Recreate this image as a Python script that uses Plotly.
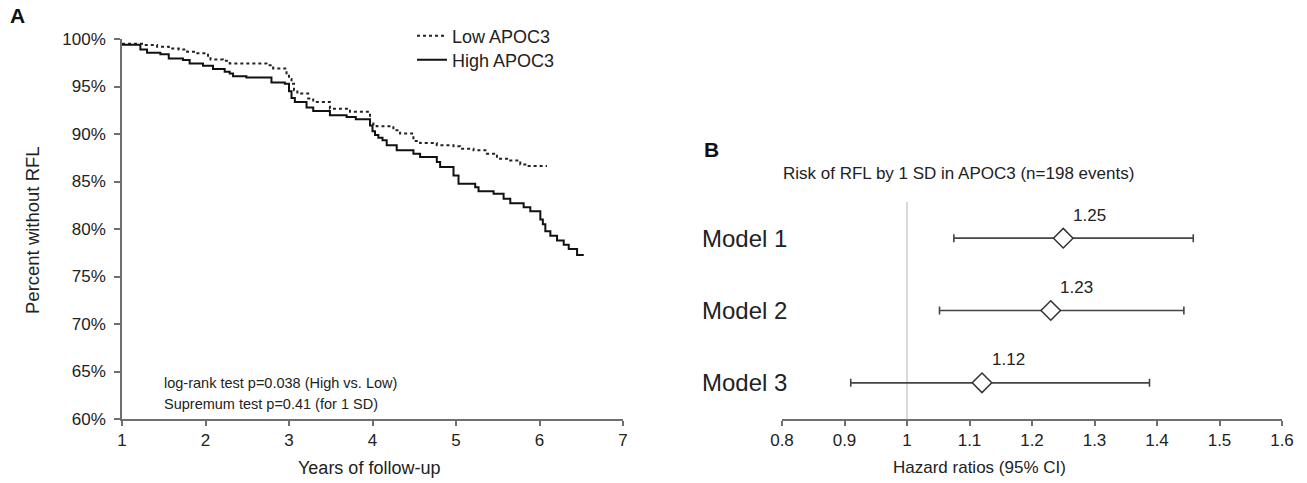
import plotly.graph_objects as go

# ---------------- Panel A data (Kaplan-Meier step curves) ----------------
low_t = [1.00, 1.26, 1.42, 1.56, 1.68, 1.78, 1.89, 2.03, 2.06, 2.21, 2.29, 2.73, 2.81,
         2.97, 3.00, 3.03, 3.06, 3.10, 3.23, 3.29, 3.49, 3.73, 3.97, 4.01, 4.05, 4.25,
         4.33, 4.49, 4.57, 4.77, 4.97, 5.05, 5.21, 5.37, 5.49, 5.65, 5.77, 5.85, 6.09]
low_s = [99.5, 99.37, 99.19, 99.0, 98.9, 98.66, 98.49, 98.1, 97.85, 97.7, 97.43, 97.25, 96.9,
         96.4, 95.8, 95.3, 94.6, 94.26, 93.74, 93.38, 92.65, 92.33, 91.3, 91.02, 90.81, 90.39,
         90.04, 89.26, 89.05, 88.81, 88.7, 88.46, 88.28, 87.93, 87.4, 87.22, 86.8, 86.62, 86.62]

high_t = [1.00, 1.22, 1.30, 1.46, 1.56, 1.73, 1.81, 1.97, 2.09, 2.23, 2.29, 2.33, 2.49, 2.79,
          2.95, 3.00, 3.03, 3.07, 3.21, 3.29, 3.49, 3.69, 3.80, 3.97, 4.00, 4.03, 4.07, 4.12,
          4.17, 4.29, 4.49, 4.57, 4.77, 4.81, 4.97, 5.03, 5.23, 5.27, 5.45, 5.57, 5.65, 5.81,
          5.89, 6.01, 6.04, 6.07, 6.13, 6.21, 6.29, 6.35, 6.45, 6.53]
high_s = [99.4, 98.9, 98.55, 98.4, 97.96, 97.78, 97.43, 97.18, 96.83, 96.55, 96.38, 96.09, 95.95, 95.42,
          95.3, 94.5, 93.8, 93.38, 92.79, 92.43, 91.97, 91.8, 91.55, 90.9, 90.3, 89.9, 89.6, 89.33,
          88.81, 88.28, 87.93, 87.57, 87.04, 86.52, 85.64, 84.76, 84.4, 83.98, 83.7, 83.18, 82.72, 82.29,
          81.87, 81.0, 80.5, 79.77, 79.3, 78.78, 78.35, 77.89, 77.26, 77.26]

years_ticks = [1, 2, 3, 4, 5, 6, 7]
pct_ticks = [60, 65, 70, 75, 80, 85, 90, 95, 100]
pct_labels = ["60%", "65%", "70%", "75%", "80%", "85%", "90%", "95%", "100%"]

# ---------------- Panel B data (forest plot) ----------------
models = ["Model 1", "Model 2", "Model 3"]
model_pos = [1, 2, 3]
hr = [1.25, 1.23, 1.12]
ci_low = [1.075, 1.052, 0.91]
ci_high = [1.458, 1.443, 1.388]
hr_labels = ["1.25", "1.23", "1.12"]
hr_ticks = [0.8, 0.9, 1.0, 1.1, 1.2, 1.3, 1.4, 1.5, 1.6]
hr_ticklabels = ["0.8", "0.9", "1", "1.1", "1.2", "1.3", "1.4", "1.5", "1.6"]

W, H = 1307, 483
FONT = "Liberation Sans, Arial, sans-serif"
TXT = "#222222"
AX = "#6f6f6f"

def px(x):
    return x / W

def py(y):
    return 1 - y / H

fig = go.Figure()

fig.add_trace(go.Scatter(x=low_t, y=low_s, mode="lines", line_shape="hv",
                         line=dict(color="#222222", width=2, dash="dot"),
                         name="Low APOC3", xaxis="x", yaxis="y", legend="legend"))
fig.add_trace(go.Scatter(x=high_t, y=high_s, mode="lines", line_shape="hv",
                         line=dict(color="#111111", width=2),
                         name="High APOC3", xaxis="x", yaxis="y", legend="legend2"))

err_plus = [h - v for h, v in zip(ci_high, hr)]
err_minus = [v - l for v, l in zip(hr, ci_low)]
fig.add_trace(go.Scatter(x=hr, y=model_pos, mode="markers", showlegend=False,
                         marker=dict(symbol="diamond", size=15, color="white",
                                     line=dict(color="#333333", width=1.5)),
                         error_x=dict(type="data", symmetric=False, array=err_plus,
                                      arrayminus=err_minus, color="#444444",
                                      thickness=1.6, width=4),
                         xaxis="x2", yaxis="y2"))

annotations = []
annotations.append(dict(text="<b>A</b>", x=px(8), y=py(16), xref="paper", yref="paper",
                        xanchor="left", yanchor="middle", showarrow=False,
                        font=dict(size=21, color="#111", family=FONT)))
annotations.append(dict(text="<b>B</b>", x=px(702), y=py(150), xref="paper", yref="paper",
                        xanchor="left", yanchor="middle", showarrow=False,
                        font=dict(size=21, color="#111", family=FONT)))
annotations.append(dict(text="Percent without RFL", x=px(32), y=py(230), xref="paper", yref="paper",
                        textangle=-90, showarrow=False, xanchor="center", yanchor="middle",
                        font=dict(size=18.5, color=TXT, family=FONT)))
annotations.append(dict(text="Years of follow-up", x=px(369), y=py(468), xref="paper", yref="paper",
                        showarrow=False, xanchor="center", yanchor="middle",
                        font=dict(size=18, color=TXT, family=FONT)))
annotations.append(dict(text="log-rank test p=0.038 (High vs. Low)", x=px(162), y=py(383),
                        xref="paper", yref="paper", showarrow=False, xanchor="left", yanchor="middle",
                        font=dict(size=14.5, color=TXT, family=FONT)))
annotations.append(dict(text="Supremum test p=0.41 (for 1 SD)", x=px(162), y=py(404),
                        xref="paper", yref="paper", showarrow=False, xanchor="left", yanchor="middle",
                        font=dict(size=14.5, color=TXT, family=FONT)))
annotations.append(dict(text="Risk of RFL by 1 SD in APOC3 (n=198 events)", x=px(959), y=py(173),
                        xref="paper", yref="paper", showarrow=False, xanchor="center", yanchor="middle",
                        font=dict(size=17, color=TXT, family=FONT)))
annotations.append(dict(text="Hazard ratios (95% CI)", x=px(979), y=py(467),
                        xref="paper", yref="paper", showarrow=False, xanchor="center", yanchor="middle",
                        font=dict(size=17, color=TXT, family=FONT)))
for m, p in zip(models, model_pos):
    annotations.append(dict(text=m, x=px(700), y=p, xref="paper", yref="y2", showarrow=False,
                            xanchor="left", yanchor="middle",
                            font=dict(size=24, color=TXT, family=FONT)))
for v, p, lab in zip(hr, model_pos, hr_labels):
    annotations.append(dict(text=lab, x=v, y=p, xref="x2", yref="y2", showarrow=False,
                            xanchor="center", yanchor="middle", xshift=26, yshift=23,
                            font=dict(size=17, color=TXT, family=FONT)))

legend_common = dict(xanchor="left", yanchor="middle", bgcolor="rgba(0,0,0,0)",
                     font=dict(size=18, color=TXT, family=FONT), itemwidth=30,
                     tracegroupgap=0)

fig.update_layout(
    template="none",
    width=W, height=H, autosize=False,
    margin=dict(l=0, r=0, t=0, b=0, pad=0),
    paper_bgcolor="white", plot_bgcolor="white",
    font=dict(family=FONT, color=TXT),
    showlegend=True,
    legend=dict(x=px(412), y=py(36), **legend_common),
    legend2=dict(x=px(412), y=py(60), **legend_common),
    xaxis=dict(domain=[px(122), px(623)], range=[1, 7], tickvals=years_ticks, automargin=False,
               showgrid=False, zeroline=False, showline=True, linecolor=AX, linewidth=1.5,
               ticks="outside", ticklen=5, tickcolor=AX, tickwidth=1.5,
               tickfont=dict(size=17, color=TXT), anchor="y"),
    yaxis=dict(domain=[py(419), py(39)], range=[60, 100], tickvals=pct_ticks, ticktext=pct_labels,
               automargin=False, ticklabelstandoff=5,
               showgrid=False, zeroline=False, showline=True, linecolor=AX, linewidth=1.5,
               ticks="outside", ticklen=6, tickcolor=AX, tickwidth=1.5,
               tickfont=dict(size=17, color=TXT), anchor="x"),
    xaxis2=dict(domain=[px(782), px(1282)], range=[0.8, 1.6], tickvals=hr_ticks, ticktext=hr_ticklabels,
                automargin=False,
                showgrid=False, zeroline=False, showline=True, linecolor=AX, linewidth=1.5,
                ticks="outside", ticklen=5, tickcolor=AX, tickwidth=1.5,
                tickfont=dict(size=17, color=TXT), anchor="y2"),
    yaxis2=dict(domain=[py(419), py(202)], range=[3.5, 0.5], visible=False, anchor="x2",
                automargin=False),
    shapes=[dict(type="line", xref="x2", yref="y2", x0=1, x1=1, y0=0.5, y1=3.5,
                 line=dict(color="#d9d9d9", width=2), layer="below")],
    annotations=annotations,
)

fig.write_html("out.html", config={"displayModeBar": False},
               post_script="document.body.style.margin='0';document.body.style.overflow='hidden';")
